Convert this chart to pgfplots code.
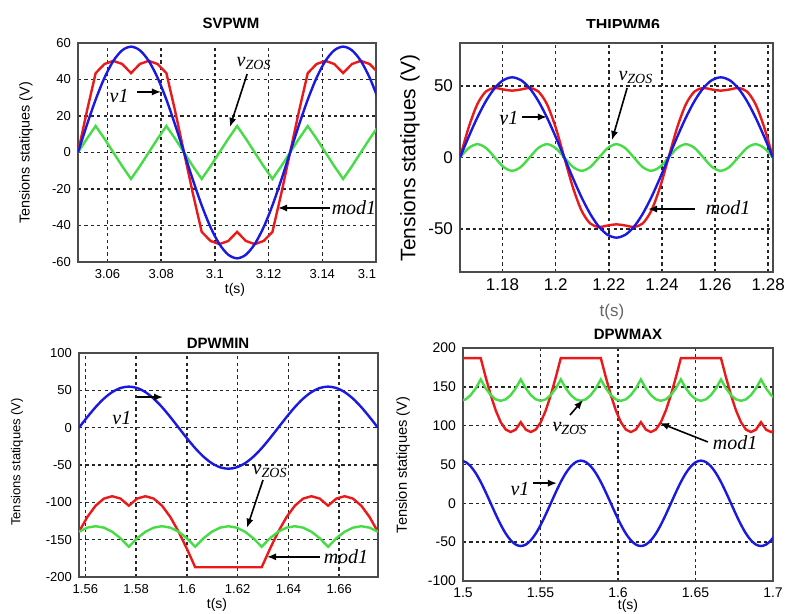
\documentclass[border=0pt]{standalone}
\usepackage{pgfplots}
\pgfplotsset{compat=1.18}
\usepackage{pgfplotstable}
\usepackage{fontspec}
\setmainfont{Liberation Sans}
\newfontfamily\tnr{Liberation Serif}
\usetikzlibrary{arrows.meta}
\definecolor{cblue}{RGB}{25,25,225}
\definecolor{cred}{RGB}{235,25,25}
\definecolor{cgreen}{RGB}{70,220,70}

\pgfplotstableread{
t v1 vz mod
3.04900 0 0 0
3.05229 15.0 7.5 22.5
3.05558 29.0 14.5 43.5
3.05888 41.0 7.5 48.5
3.06217 50.2 0 50.2
3.06546 56.0 -7.5 48.5
3.06875 58.0 -14.5 43.5
3.07204 56.0 -7.5 48.5
3.07533 50.2 0 50.2
3.07863 41.0 7.5 48.5
3.08192 29.0 14.5 43.5
3.08521 15.0 7.5 22.5
3.08850 0 0 0
3.09179 -15.0 -7.5 -22.5
3.09508 -29.0 -14.5 -43.5
3.09838 -41.0 -7.5 -48.5
3.10167 -50.2 0 -50.2
3.10496 -56.0 7.5 -48.5
3.10825 -58.0 14.5 -43.5
3.11154 -56.0 7.5 -48.5
3.11483 -50.2 0 -50.2
3.11813 -41.0 -7.5 -48.5
3.12142 -29.0 -14.5 -43.5
3.12471 -15.0 -7.5 -22.5
3.12800 0 0 0
3.13129 15.0 7.5 22.5
3.13458 29.0 14.5 43.5
3.13788 41.0 7.5 48.5
3.14117 50.2 0 50.2
3.14446 56.0 -7.5 48.5
3.14775 58.0 -14.5 43.5
3.15104 56.0 -7.5 48.5
3.15433 50.2 0 50.2
3.15763 41.0 7.5 48.5
3.16092 29.0 14.5 43.5
}\tabA

\pgfplotstableread{
t v1 vz mod
1.16400 0 0 0
1.16727 14.5 6.6 21.1
1.17054 28.0 9.3 37.3
1.17381 39.6 6.6 46.2
1.17708 48.5 0 48.5
1.18035 54.1 -6.6 47.5
1.18363 56.0 -9.3 46.7
1.18690 54.1 -6.6 47.5
1.19017 48.5 0 48.5
1.19344 39.6 6.6 46.2
1.19671 28.0 9.3 37.3
1.19998 14.5 6.6 21.1
1.20325 0 0 0
1.20652 -14.5 -6.6 -21.1
1.20979 -28.0 -9.3 -37.3
1.21306 -39.6 -6.6 -46.2
1.21633 -48.5 0 -48.5
1.21960 -54.1 6.6 -47.5
1.22288 -56.0 9.3 -46.7
1.22615 -54.1 6.6 -47.5
1.22942 -48.5 0 -48.5
1.23269 -39.6 -6.6 -46.2
1.23596 -28.0 -9.3 -37.3
1.23923 -14.5 -6.6 -21.1
1.24250 0 0 0
1.24577 14.5 6.6 21.1
1.24904 28.0 9.3 37.3
1.25231 39.6 6.6 46.2
1.25558 48.5 0 48.5
1.25885 54.1 -6.6 47.5
1.26213 56.0 -9.3 46.7
1.26540 54.1 -6.6 47.5
1.26867 48.5 0 48.5
1.27194 39.6 6.6 46.2
1.27521 28.0 9.3 37.3
1.27848 14.5 6.6 21.1
1.28175 0 0 0
}\tabB

\pgfplotstableread{
t v1 vz mod
1.55750 0 -139.4 -139.4
1.56077 14.2 -133.9 -119.7
1.56404 27.5 -132.0 -104.5
1.56731 38.9 -133.9 -95.0
1.57058 47.6 -139.4 -91.8
1.57385 53.1 -148.1 -95.0
1.57713 55.0 -159.5 -104.5
1.58040 53.1 -148.1 -95.0
1.58367 47.6 -139.4 -91.8
1.58694 38.9 -133.9 -95.0
1.59021 27.5 -132.0 -104.5
1.59348 14.2 -133.9 -119.7
1.59675 0 -139.4 -139.4
1.60002 -14.2 -148.1 -162.3
1.60329 -27.5 -159.5 -187.0
1.60656 -38.9 -148.1 -187.0
1.60983 -47.6 -139.4 -187.0
1.61310 -53.1 -133.9 -187.0
1.61638 -55.0 -132.0 -187.0
1.61965 -53.1 -133.9 -187.0
1.62292 -47.6 -139.4 -187.0
1.62619 -38.9 -148.1 -187.0
1.62946 -27.5 -159.5 -187.0
1.63273 -14.2 -148.1 -162.3
1.63600 0 -139.4 -139.4
1.63927 14.2 -133.9 -119.7
1.64254 27.5 -132.0 -104.5
1.64581 38.9 -133.9 -95.0
1.64908 47.6 -139.4 -91.8
1.65235 53.1 -148.1 -95.0
1.65563 55.0 -159.5 -104.5
1.65890 53.1 -148.1 -95.0
1.66217 47.6 -139.4 -91.8
1.66544 38.9 -133.9 -95.0
1.66871 27.5 -132.0 -104.5
1.67198 14.2 -133.9 -119.7
1.67525 0 -139.4 -139.4
}\tabC

\pgfplotstableread{
t v1 vz mod
1.49850 55.0 132.0 187
1.50173 53.1 133.9 187
1.50496 47.6 139.4 187
1.50819 38.9 148.1 187
1.51142 27.5 159.5 187
1.51465 14.2 148.1 162.3
1.51788 0 139.4 139.4
1.52110 -14.2 133.9 119.7
1.52433 -27.5 132.0 104.5
1.52756 -38.9 133.9 95.0
1.53079 -47.6 139.4 91.8
1.53402 -53.1 148.1 95.0
1.53725 -55.0 159.5 104.5
1.54048 -53.1 148.1 95.0
1.54371 -47.6 139.4 91.8
1.54694 -38.9 133.9 95.0
1.55017 -27.5 132.0 104.5
1.55340 -14.2 133.9 119.7
1.55663 0 139.4 139.4
1.55985 14.2 148.1 162.3
1.56308 27.5 159.5 187
1.56631 38.9 148.1 187
1.56954 47.6 139.4 187
1.57277 53.1 133.9 187
1.57600 55.0 132.0 187
1.57923 53.1 133.9 187
1.58246 47.6 139.4 187
1.58569 38.9 148.1 187
1.58892 27.5 159.5 187
1.59215 14.2 148.1 162.3
1.59538 0 139.4 139.4
1.59860 -14.2 133.9 119.7
1.60183 -27.5 132.0 104.5
1.60506 -38.9 133.9 95.0
1.60829 -47.6 139.4 91.8
1.61152 -53.1 148.1 95.0
1.61475 -55.0 159.5 104.5
1.61798 -53.1 148.1 95.0
1.62121 -47.6 139.4 91.8
1.62444 -38.9 133.9 95.0
1.62767 -27.5 132.0 104.5
1.63090 -14.2 133.9 119.7
1.63413 0 139.4 139.4
1.63735 14.2 148.1 162.3
1.64058 27.5 159.5 187
1.64381 38.9 148.1 187
1.64704 47.6 139.4 187
1.65027 53.1 133.9 187
1.65350 55.0 132.0 187
1.65673 53.1 133.9 187
1.65996 47.6 139.4 187
1.66319 38.9 148.1 187
1.66642 27.5 159.5 187
1.66965 14.2 148.1 162.3
1.67288 0 139.4 139.4
1.67610 -14.2 133.9 119.7
1.67933 -27.5 132.0 104.5
1.68256 -38.9 133.9 95.0
1.68579 -47.6 139.4 91.8
1.68902 -53.1 148.1 95.0
1.69225 -55.0 159.5 104.5
1.69548 -53.1 148.1 95.0
1.69871 -47.6 139.4 91.8
1.70194 -38.9 133.9 95.0
}\tabD

\pgfplotsset{
  panel/.style={scale only axis, anchor=south west, clip mode=individual,
    grid=major,
    grid style={black!85, line width=0.75pt, dash pattern=on 1.6pt off 1.6pt},
    axis line style={black!70, line width=0.6pt},
    major tick length=0pt,
    /pgf/number format/assume math mode=true},
  vb/.style={cblue, line width=1.2pt, smooth},
  vr/.style={cred, line width=1.2pt},
  vg/.style={cgreen, line width=1.2pt},
}
\tikzset{ann/.style={-{Latex[length=4.5pt,width=3.6pt]}, line width=0.8pt},
  lab/.style={font=\tnr\itshape\fontsize{10}{10}\selectfont, inner sep=0pt}}
\newcommand{\fs}[1]{\fontsize{#1}{#1}\selectfont}

\begin{document}
\begin{tikzpicture}
\useasboundingbox (0,0) rectangle (392.5pt,307pt);

% SVPWM
\begin{axis}[panel, at={(39pt,176pt)}, width=149pt, height=109.5pt,
  xmin=3.049, xmax=3.16, ymin=-60, ymax=60,
  ytick={-60,-40,-20,0,20,40,60},
  xtick={3.06,3.08,3.1,3.12,3.14,3.16},
  xticklabels={3.06,3.08,3.1,3.12,3.14,\llap{3.1}},
  tick label style={font=\fs{6.5}}]
\addplot[vr] table[x=t,y=mod] {\tabA};
\addplot[vg] table[x=t,y=vz] {\tabA};
\addplot[vb] table[x=t,y=v1] {\tabA};
\node[lab] at (axis cs:3.0643,31) {v1};
\draw[ann] (axis cs:3.0710,33.2) -- (axis cs:3.0799,33.2);
\node[lab] at (axis cs:3.1146,49) {v\textsubscript{ZOS}};
\draw[ann] (axis cs:3.1120,43) -- (axis cs:3.1056,14);
\node[lab] at (axis cs:3.1518,-30.4) {mod1};
\draw[ann] (axis cs:3.1429,-30.4) -- (axis cs:3.1235,-30.4);
\end{axis}

% THIPWM6
\begin{axis}[panel, at={(230pt,171pt)}, width=156.5pt, height=114.5pt,
  xmin=1.164, xmax=1.2818, ymin=-80, ymax=80,
  ytick={-50,0,50},
  xtick={1.18,1.2,1.22,1.24,1.26,1.28},
  tick label style={font=\fs{8.5}}]
\addplot[vr, smooth] table[x=t,y=mod] {\tabB};
\addplot[vg, smooth] table[x=t,y=vz] {\tabB};
\addplot[vb] table[x=t,y=v1] {\tabB};
\node[lab] at (axis cs:1.1824,27.6) {v1};
\draw[ann] (axis cs:1.1873,28.3) -- (axis cs:1.1967,28.3);
\node[lab] at (axis cs:1.2302,56.2) {v\textsubscript{ZOS}};
\draw[ann] (axis cs:1.2269,48.6) -- (axis cs:1.2212,12.2);
\node[lab] at (axis cs:1.2649,-35.3) {mod1};
\draw[ann] (axis cs:1.2524,-36) -- (axis cs:1.2348,-36);
\end{axis}

% DPWMIN
\begin{axis}[panel, at={(39.5pt,18.5pt)}, width=149.5pt, height=112pt,
  xmin=1.5575, xmax=1.6753, ymin=-200, ymax=100,
  ytick={-200,-150,-100,-50,0,50,100},
  xtick={1.56,1.58,1.6,1.62,1.64,1.66},
  tick label style={font=\fs{6.5}}]
\addplot[vr] table[x=t,y=mod] {\tabC};
\addplot[vg] table[x=t,y=vz] {\tabC};
\addplot[vb] table[x=t,y=v1] {\tabC};
\node[lab] at (axis cs:1.5744,13) {v1};
\draw[ann] (axis cs:1.5804,41) -- (axis cs:1.5906,41);
\node[lab] at (axis cs:1.6328,-59) {v\textsubscript{ZOS}};
\draw[ann] (axis cs:1.6300,-70) -- (axis cs:1.6237,-134);
\node[lab] at (axis cs:1.6627,-173) {mod1};
\draw[ann] (axis cs:1.6525,-173) -- (axis cs:1.6316,-173);
\end{axis}

% DPWMAX
\begin{axis}[panel, at={(231.5pt,16.5pt)}, width=155pt, height=116.5pt,
  xmin=1.5, xmax=1.7, ymin=-100, ymax=200,
  ytick={-100,-50,0,50,100,150,200},
  xtick={1.5,1.55,1.6,1.65,1.7},
  tick label style={font=\fs{7}}]
\addplot[vr] table[x=t,y=mod] {\tabD};
\addplot[vg] table[x=t,y=vz] {\tabD};
\addplot[vb] table[x=t,y=v1] {\tabD};
\node[lab] at (axis cs:1.569,97) {v\textsubscript{ZOS}};
\draw[ann] (axis cs:1.569,113.7) -- (axis cs:1.5774,133);
\node[lab] at (axis cs:1.6755,77.7) {mod1};
\draw[ann] (axis cs:1.658,79) -- (axis cs:1.627,103.4);
\node[lab] at (axis cs:1.5368,18.5) {v1};
\draw[ann] (axis cs:1.5452,26) -- (axis cs:1.5606,26);
\end{axis}

% titles
\node[font=\bfseries\fs{7.5}] at (115.5pt,295.5pt) {SVPWM};
\begin{scope}
\clip (250pt,293pt) rectangle (380pt,307pt);
\node[font=\bfseries\fs{8}] at (311.5pt,294.5pt) {THIPWM6};
\end{scope}
\node[font=\bfseries\fs{7.5}] at (109pt,135.5pt) {DPWMIN};
\node[font=\bfseries\fs{7.5}] at (314pt,140pt) {DPWMAX};

% axis labels
\node[rotate=90, font=\fs{7.2}] at (13pt,230.5pt) {Tensions statiques (V)};
\node[rotate=90, font=\fs{10.5}] at (205pt,228pt) {Tensions statiques (V)};
\node[rotate=90, font=\fs{6.5}] at (8.5pt,76pt) {Tensions statiques (V)};
\node[rotate=90, font=\fs{7.3}] at (201.5pt,74.5pt) {Tension statiques (V)};
\node[font=\fs{7}] at (117.5pt,162pt) {t(s)};
\node[font=\fs{8.5}, text=black!60] at (306pt,151pt) {t(s)};
\node[font=\fs{7}] at (108.5pt,4.5pt) {t(s)};
\node[font=\fs{7}] at (314pt,4pt) {t(s)};
\end{tikzpicture}
\end{document}
